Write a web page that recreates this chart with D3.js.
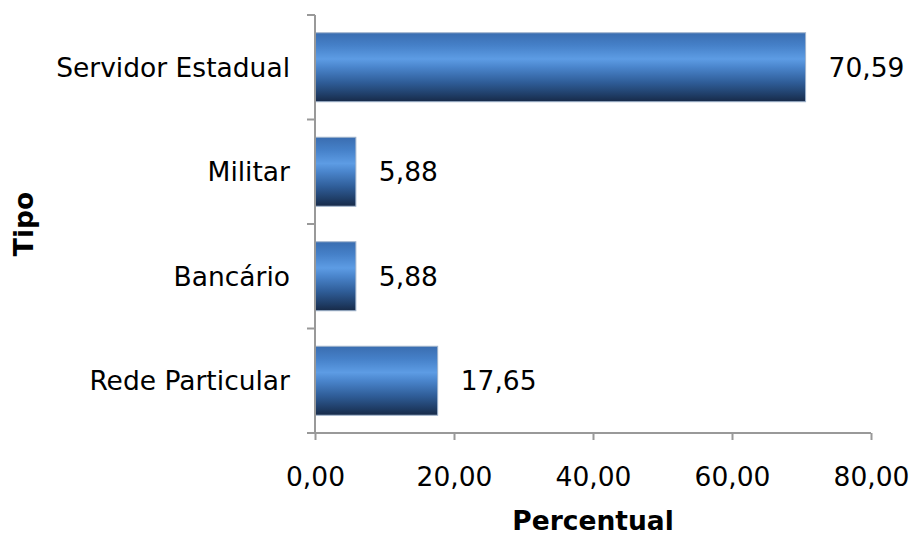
<!DOCTYPE html>
<meta charset="utf-8">
<style>
body { margin: 0; background: #fff; }
text { font-family: "DejaVu Sans", Verdana, sans-serif; fill: #000; }
.axis path, .axis line { stroke: #999; stroke-width: 2px; }
</style>
<svg width="911" height="537"></svg>
<script src="https://cdn.jsdelivr.net/npm/d3@7"></script>
<script>
var categories = ["Servidor Estadual", "Militar", "Bancário", "Rede Particular"];
var values = [70.59, 5.88, 5.88, 17.65];
var xTicks = [0, 20, 40, 60, 80];

var fmt = function(v) { return d3.format(".2f")(v).replace(".", ","); };
var fs = "26.5px";

var svg = d3.select("svg"),
    margin = {top: 15, right: 40, bottom: 104, left: 315},
    width = 871 - margin.left,
    height = 433 - margin.top,
    g = svg.append("g").attr("transform", "translate(" + margin.left + "," + margin.top + ")");

var x = d3.scaleLinear().domain([0, 80]).range([0, width]);
var y = d3.scaleBand().domain(categories).range([0, height]).paddingInner(0.34).paddingOuter(0.17);

var grad = svg.append("defs").append("linearGradient")
    .attr("id", "barGrad")
    .attr("x1", 0).attr("y1", 0).attr("x2", 0).attr("y2", 1);
[[0, "#3a6db0"], [0.18, "#4580c8"], [0.38, "#5d9ce4"], [0.5, "#4a85cc"], [0.72, "#2f5d98"], [0.9, "#1f3d66"], [1, "#172a48"]]
  .forEach(function(s) { grad.append("stop").attr("offset", s[0]).attr("stop-color", s[1]); });

var data = categories.map(function(c, i) { return {cat: c, v: values[i]}; });

g.selectAll(".bar")
  .data(data)
  .enter().append("rect")
    .attr("class", "bar")
    .attr("x", 0)
    .attr("y", function(d) { return y(d.cat); })
    .attr("width", function(d) { return x(d.v); })
    .attr("height", y.bandwidth())
    .attr("fill", "url(#barGrad)")
    .attr("stroke", "#9fb3cc")
    .attr("stroke-width", 1);

g.selectAll(".val")
  .data(data)
  .enter().append("text")
    .attr("class", "val")
    .attr("x", function(d) { return x(d.v) + 23; })
    .attr("y", function(d) { return y(d.cat) + y.bandwidth() / 2; })
    .attr("dy", "0.36em")
    .style("font-size", fs)
    .text(function(d) { return fmt(d.v); });

// y axis: ticks between categories
var yAxis = g.append("g").attr("class", "axis");
yAxis.append("line").attr("x1", 0).attr("x2", 0).attr("y1", 0).attr("y2", height);
var step = height / categories.length;
yAxis.selectAll(".tk")
  .data(d3.range(categories.length + 1))
  .enter().append("line")
    .attr("x1", -8).attr("x2", 0)
    .attr("y1", function(i) { return i * step; })
    .attr("y2", function(i) { return i * step; });
yAxis.selectAll(".lbl")
  .data(categories)
  .enter().append("text")
    .attr("x", -25)
    .attr("y", function(d) { return y(d) + y.bandwidth() / 2; })
    .attr("dy", "0.36em")
    .attr("text-anchor", "end")
    .style("font-size", fs)
    .text(function(d) { return d; });

g.append("g")
    .attr("class", "axis")
    .attr("transform", "translate(0," + height + ")")
    .call(d3.axisBottom(x).tickValues(xTicks).tickSize(7).tickSizeOuter(0).tickPadding(27).tickFormat(fmt))
    .call(function(a) {
      a.selectAll("text").style("font-size", fs).attr("font-family", null);
      a.select(".domain").attr("d", "M-8,0H" + width);
    });

svg.append("text")
    .attr("x", margin.left + width / 2)
    .attr("y", 530)
    .attr("text-anchor", "middle")
    .style("font-size", fs)
    .style("font-weight", "bold")
    .text("Percentual");

svg.append("text")
    .attr("transform", "translate(33," + (margin.top + height / 2) + ") rotate(-90)")
    .attr("text-anchor", "middle")
    .style("font-size", fs)
    .style("font-weight", "bold")
    .text("Tipo");
</script>
